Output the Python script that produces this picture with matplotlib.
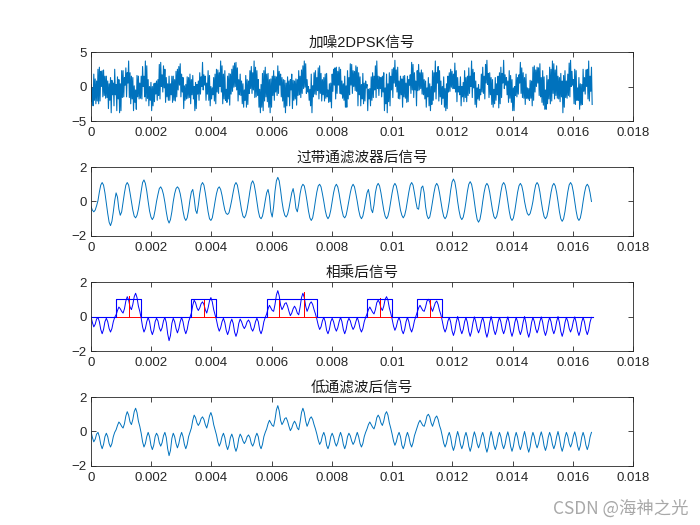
import numpy as np
import matplotlib.pyplot as plt

plt.rcParams['font.family'] = ['Liberation Sans', 'Noto Sans CJK SC', 'DejaVu Sans']

# sample rates (Hz) and bit rate of the 2DPSK signal
fs_noisy = 43200
fs = 21600
bit_rate = 1200

# received signal with noise
noisy = [
    0.3, -2.2, -0.2, -2.8, 1.8, -2.0, 1.1, -2.5, 0.8, -2.1, 2.5, -2.5, 2.8, -2.1, 2.2, 0.0, 2.3, -1.5, 2.4, -1.3, 1.5, -1.7, 1.5, -1.6,
    0.8, -3.2, 0.4, -2.0, 1.3, -3.8, 0.9, -1.2, 0.5, -2.8, 2.5, -1.2, 0.3, -3.5, 1.4, -1.8, 1.0, -3.8, 0.4, -3.5, 2.3, -1.6, 2.3, -1.5,
    1.3, 0.2, 2.7, -1.5, 2.0, 0.5, 3.7, -1.6, 2.0, -2.5, 1.5, -1.8, 1.3, -3.5, 0.1, -2.3, -0.5, -3.3, 1.6, -1.5, 1.5, -1.8, 0.5, -1.7,
    1.5, -1.8, 2.9, 0.0, 1.5, -1.5, 3.7, -2.1, 3.0, -1.7, 1.0, -2.8, 0.0, -2.0, 0.6, -3.5, 0.0, -2.8, 0.4, -2.2, 0.5, -1.1, 0.8, -2.0,
    1.0, -1.3, 3.2, -1.8, 3.5, 0.0, 1.7, -0.8, 3.0, -0.2, 2.5, -2.3, 1.3, -1.5, 0.4, -2.0, 1.5, -2.0, 0.4, -1.2, 1.5, -2.3, 1.5, -2.0,
    1.0, -2.1, 2.2, -1.5, 2.5, -0.5, 2.9, 0.2, 3.3, -1.5, 1.8, -0.8, 1.3, -3.2, 0.1, -2.0, 0.3, -1.8, 1.4, -1.7, 1.3, -1.6, 1.8, -2.5,
    1.0, -1.2, 1.6, -1.8, 0.0, -3.5, 0.6, -3.2, 0.3, -1.1, 0.8, -2.0, 2.0, -1.1, 1.4, 0.0, 3.5, -0.5, 1.7, 0.2, 1.5, -2.0, 0.5, -1.1,
    2.3, -2.0, 1.6, -2.8, 0.0, -1.8, -0.2, -1.2, 1.3, -2.1, 1.8, -2.5, 2.5, -0.8, 2.4, -1.0, 2.0, 0.0, 3.7, -0.8, 3.0, -2.5, 1.8, -1.8,
    2.3, -2.0, -0.4, -2.3, 1.5, -1.8, 1.9, -2.7, 1.8, -1.1, 2.5, -0.7, 3.0, -0.1, 3.4, 0.0, 3.5, -0.5, 2.7, -2.1, 1.0, -1.2, 1.8, -1.3,
    0.8, -2.5, 0.4, -3.0, -0.5, -2.0, 1.6, -3.0, 1.0, -2.6, 0.8, -1.0, 2.3, -0.3, 2.9, -1.0, 2.0, -0.5, 3.7, -1.6, 2.8, -1.5, 2.3, -1.3,
    1.0, -3.0, -0.4, -3.8, 0.3, -3.0, 1.9, -3.5, 2.3, -2.1, 2.8, -1.5, 1.8, -2.2, 1.9, -3.0, 1.0, -3.8, 1.1, -3.0, 1.5, -1.3, 2.3, -2.0,
    1.5, -0.8, 1.4, -1.3, 3.0, -1.0, 2.2, 0.2, 1.8, -1.5, 1.3, -2.1, 1.0, -3.0, 0.9, -3.8, 0.5, -2.8, 1.4, -1.5, 0.8, -2.8, 1.0, -0.5,
    1.8, -3.2, 0.9, -2.0, 0.8, -1.8, 1.1, -2.7, 1.0, -1.3, 2.3, -1.2, 1.5, -1.6, 2.4, -1.0, 3.0, -0.3, 3.7, -0.1, 3.3, -1.0, 1.0, -0.8,
    0.0, -2.0, -0.4, -2.8, 1.8, -3.8, 0.1, -1.5, 2.0, -1.1, 2.3, -1.2, 1.3, -0.6, 2.7, -1.8, 3.0, -1.0, 1.9, -2.1, 1.0, -1.2, 1.3, -2.1,
    1.8, -1.7, 1.9, -1.5, -0.5, -2.3, 0.4, -2.2, 0.5, -3.1, 1.8, -0.7, 2.5, 0.2, 2.7, -1.8, 2.8, -1.0, 2.2, 0.2, 2.8, -1.0, 2.5, -1.1,
    0.8, -1.7, 0.4, -2.0, 1.5, -3.0, 0.1, -3.0, 2.3, -1.8, 1.3, -1.2, 3.3, 0.2, 3.2, -1.0, 2.3, 0.0, 2.2, -0.6, 3.0, -0.7, 2.8, -2.8,
    2.0, -1.2, 1.4, -2.8, 0.3, -1.8, 1.9, -2.5, 0.5, -2.1, 0.8, -0.2, 0.3, -3.5, -0.4, -1.8, -0.3, -2.8, 1.4, -2.0, 2.0, -1.6, 1.5, -0.5,
    3.0, -1.6, 3.7, -0.3, 1.5, -1.3, 1.4, -0.3, 1.3, -1.5, 1.5, -0.8, 2.0, -3.5, -0.2, -2.5, 1.8, -3.8, 0.4, -2.2, 2.0, -2.8, 1.5, -0.5,
    2.5, -1.6, 2.7, 0.5, 3.8, 0.0, 2.4, -0.8, 2.8, -1.7, 0.8, -1.8, 1.5, -1.2, 1.1, -3.0, 1.5, -1.5, 1.6, -1.7, 0.5, -2.3, 1.5, -2.2,
    1.0, 0.2, 1.7, -1.0, 3.5, -0.5, 3.2, -1.6, 2.0, -0.5, 0.8, -2.8, 2.3, -0.6, 3.2, -0.5, 2.0, -0.3, 2.4, -1.1, 2.0, -1.2, 1.0, -1.8,
    0.8, -3.0, -0.2, -1.5, 1.3, -2.8, 0.4, -3.5, 0.0, -2.6, 2.3, -2.0, 2.0, -0.8, 3.7, -1.8, 2.0, 0.5, 2.9, -2.1, 2.3, -1.5, 0.8, -2.6,
    0.0, -1.7, 1.4, -3.0, -0.3, -3.5, 0.4, -3.2, 1.5, -0.8, 2.0, -0.7, 2.5, -0.1, 2.2, -0.3, 1.8, -0.3, 3.4, -0.8, 2.3, -2.2, 1.3, -0.8,
    0.0, -1.2, 1.4, -2.8, 0.0, -1.5, 0.6, -2.2, 2.3, -1.6, 1.3, -2.2, 1.5, -1.3, 2.7, -1.0, 1.5, 0.0, 3.7, -1.6, 2.5, -0.2, 2.0, -2.6,
    0.8, -3.0, -0.2, -1.8, 0.3, -2.0, -0.4, -1.2, 1.8, -0.8, 2.8, -1.0, 1.5, -1.8, 3.2, 0.5, 3.8, 0.3, 1.9, -1.6, 2.0, -1.2, 1.3, -2.6,
    1.0, -3.0, -0.4, -2.5, 1.3, -2.0, 0.4, -1.2, 1.5, -3.1, 2.0, -2.5, 2.8, -1.6, 1.9, 0.5, 3.8, -0.3, 1.7, 0.2, 1.3, -1.2, 0.8, -2.3,
    2.3, -1.7, 1.6, -2.3, 1.0, -3.5, -0.2, -3.5, 0.0, -1.3, 1.8, -1.5, 1.3, -1.1, 1.7, 0.5, 3.5, -1.0, 2.7, -1.6, 2.0, -1.7, 1.3, -2.6,
    1.8, -1.7, -0.2, -1.8, -0.3, -2.0, 0.9, -1.7, 0.8, -2.8, 2.8, -2.0, 3.0, -0.8, 2.4, 0.0, 2.8, 0.5, 2.7, -1.3, 3.3, -1.5, 1.3, -2.3,
    2.3, -2.7, 1.4, -3.3, -0.5, -3.3, 1.6, -2.5, 1.0, -1.8, 2.8, -2.5, 2.5, -2.1, 3.7, -1.0, 3.3, -1.8, 2.4, -1.3, 3.0, -1.7, 1.5, -1.8,
    1.3, -2.2, 1.9, -1.5, 0.8, -3.8, 1.6, -3.0, 2.3, -1.6, 0.8, -1.7, 1.8, -1.3, 3.4, -1.5, 3.8, 0.0, 2.2, 0.2, 1.0, -2.5, 2.5, -2.6,
    2.3, -2.0, -0.2, -2.0, 1.3, -3.3, 0.4, -2.7, 0.3, -2.6, 2.5, -0.7, 1.3, -1.1, 2.4, 0.0, 2.5, -1.8, 3.7, -2.1, 1.5, -0.7, 2.8, -2.6,
]

# after the band-pass filter
bandpass = [
    -0.3, -0.5, -0.6, -0.5, -0.25, 0.05, 0.55, 0.95, 1.1, 0.95, 0.5, -0.1, -0.7, -1.2, -1.4, -1.15, -0.6, 0.05,
    0.5, 0.25, -0.45, -0.8, -0.6, -0.05, 0.5, 0.95, 1.1, 0.95, 0.5, 0.0, -0.5, -0.85, -0.95, -0.8, -0.45, 0.05,
    0.6, 1.1, 1.25, 1.05, 0.6, 0.0, -0.55, -0.9, -1.05, -0.9, -0.5, 0.0, 0.4, 0.75, 0.85, 0.7, 0.4, -0.05,
    -0.6, -1.05, -1.25, -1.05, -0.6, 0.0, 0.45, 0.75, 0.85, 0.75, 0.45, 0.0, -0.55, -0.95, -1.1, -0.95, -0.5, 0.1,
    0.55, 0.7, 0.2, -0.5, -0.7, -0.2, 0.45, 0.95, 1.1, 0.95, 0.5, -0.05, -0.6, -1.0, -1.1, -0.95, -0.5, 0.0,
    0.45, 0.75, 0.85, 0.7, 0.35, -0.1, -0.5, -0.7, -0.75, -0.65, -0.3, 0.1, 0.55, 0.95, 1.1, 0.95, 0.5, 0.0,
    -0.5, -0.85, -0.95, -0.8, -0.45, 0.05, 0.6, 1.05, 1.2, 1.0, 0.55, 0.0, -0.55, -0.9, -1.0, -0.85, -0.45, 0.05,
    0.5, 0.7, 0.3, -0.6, -0.9, -0.3, 0.6, 1.2, 1.4, 1.2, 0.65, 0.0, -0.5, -0.8, -0.9, -0.75, -0.4, 0.05,
    0.5, 0.75, 0.3, -0.4, -0.6, -0.15, 0.45, 0.85, 1.0, 0.9, 0.5, 0.0, -0.55, -0.95, -1.1, -0.95, -0.5, 0.05,
    0.55, 0.9, 1.0, 0.85, 0.45, 0.0, -0.5, -0.85, -1.0, -0.85, -0.5, 0.0, 0.5, 0.85, 1.0, 0.85, 0.45, -0.05,
    -0.5, -0.85, -0.95, -0.8, -0.4, 0.05, 0.5, 0.85, 1.0, 0.85, 0.45, 0.0, -0.5, -0.85, -1.0, -0.85, -0.45, 0.05,
    0.5, 0.7, 0.25, -0.45, -0.65, -0.2, 0.5, 0.9, 1.05, 0.9, 0.5, 0.0, -0.5, -0.85, -1.0, -0.85, -0.5, 0.0,
    0.5, 0.9, 1.05, 0.9, 0.5, 0.0, -0.5, -0.8, -0.95, -0.8, -0.45, 0.05, 0.55, 0.95, 1.1, 0.95, 0.5, 0.0,
    -0.4, -0.45, 0.2, 0.8, 0.9, 0.5, -0.3, -0.8, -1.0, -0.9, -0.5, 0.0, 0.5, 0.9, 1.05, 0.9, 0.5, 0.0,
    -0.5, -0.87, -1.0, -0.87, -0.5, 0.0, 0.65, 1.13, 1.3, 1.13, 0.65, 0.0,
    -0.53, -0.91, -1.05, -0.91, -0.53, 0.0, 0.58, 1.0, 1.15, 1.0, 0.58, 0.0,
    -0.6, -1.04, -1.2, -1.04, -0.6, 0.0, 0.53, 0.91, 1.05, 0.91, 0.53, 0.0,
    -0.5, -0.87, -1.0, -0.87, -0.5, 0.0, 0.55, 0.96, 1.1, 0.96, 0.55, 0.0,
    -0.55, -0.96, -1.1, -0.96, -0.55, 0.0, 0.53, 0.91, 1.05, 0.91, 0.53, 0.0,
    -0.4, -0.7, -0.8, -0.7, -0.4, 0.0, 0.55, 0.96, 1.1, 0.96, 0.55, 0.0,
    -0.5, -0.87, -1.0, -0.87, -0.5, 0.0, 0.53, 0.91, 1.05, 0.91, 0.53, 0.0,
    -0.58, -1.0, -1.15, -1.0, -0.58, 0.0, 0.55, 0.96, 1.1, 0.96, 0.55, 0.0,
    -0.55, -0.96, -1.1, -0.96, -0.55, 0.0, 0.5, 0.87, 1.0, 0.87, 0.5, 0.0,
]

# after multiplying and low-pass filtering
lowpass = [
    0.0, -0.35, -0.6, -0.45, -0.15, -0.05, -0.3, -0.75, -1.0, -0.75, -0.3, -0.1, -0.3, -0.7, -0.9, -0.7, -0.3, -0.05,
    0.1, 0.35, 0.55, 0.45, 0.3, 0.2, 0.45, 0.9, 1.15, 0.95, 0.55, 0.4, 0.7, 1.15, 1.35, 1.1, 0.6, 0.3,
    -0.1, -0.6, -0.9, -0.7, -0.3, -0.05, -0.3, -0.8, -1.05, -0.8, -0.3, -0.1, -0.25, -0.65, -0.85, -0.65, -0.25, -0.05,
    -0.35, -1.0, -1.4, -1.1, -0.4, -0.1, -0.3, -0.7, -0.95, -0.7, -0.3, -0.05, -0.3, -0.75, -1.0, -0.75, -0.3, -0.05,
    0.2, 0.65, 0.95, 0.8, 0.5, 0.35, 0.5, 0.75, 0.85, 0.7, 0.4, 0.2, 0.5, 0.9, 1.1, 0.85, 0.4, 0.1,
    -0.2, -0.6, -0.85, -0.65, -0.3, -0.1, -0.35, -0.8, -1.05, -0.8, -0.35, -0.15, -0.4, -0.9, -1.15, -0.9, -0.4, -0.15,
    -0.3, -0.55, -0.7, -0.55, -0.3, -0.2, -0.35, -0.7, -0.85, -0.65, -0.3, -0.1, -0.3, -0.8, -1.0, -0.75, -0.3, -0.05,
    0.15, 0.45, 0.65, 0.5, 0.35, 0.3, 0.7, 1.25, 1.5, 1.2, 0.65, 0.4, 0.55, 0.75, 0.8, 0.6, 0.3, 0.05,
    0.2, 0.45, 0.6, 0.45, 0.2, 0.1, 0.55, 1.1, 1.35, 1.1, 0.6, 0.3, 0.5, 0.75, 0.85, 0.7, 0.4, 0.15,
    -0.15, -0.5, -0.75, -0.6, -0.25, -0.05, -0.3, -0.8, -1.0, -0.75, -0.3, -0.1, -0.3, -0.65, -0.85, -0.65, -0.3, -0.05,
    -0.3, -0.75, -1.0, -0.75, -0.3, -0.1, -0.25, -0.55, -0.75, -0.6, -0.3, -0.05, -0.3, -0.7, -0.9, -0.7, -0.3, -0.05,
    0.15, 0.4, 0.55, 0.4, 0.25, 0.15, 0.4, 0.8, 0.95, 0.8, 0.5, 0.35, 0.6, 1.0, 1.15, 0.95, 0.5, 0.2,
    -0.15, -0.55, -0.8, -0.6, -0.25, -0.05, -0.3, -0.8, -1.0, -0.75, -0.3, -0.05, -0.3, -0.7, -0.9, -0.65, -0.25, 0.0,
    0.25, 0.5, 0.65, 0.5, 0.35, 0.3, 0.55, 0.9, 1.0, 0.85, 0.5, 0.3, 0.55, 0.8, 0.9, 0.7, 0.35, 0.1,
    -0.27, -0.68, -0.9, -0.68, -0.27, -0.05, -0.33, -0.83, -1.1, -0.83, -0.33, 0.0,
    -0.3, -0.75, -1.0, -0.75, -0.3, -0.05, -0.35, -0.86, -1.15, -0.86, -0.35, -0.02,
    -0.29, -0.71, -0.95, -0.71, -0.29, -0.05, -0.36, -0.9, -1.2, -0.9, -0.36, 0.0,
    -0.32, -0.79, -1.05, -0.79, -0.32, -0.05, -0.3, -0.75, -1.0, -0.75, -0.3, -0.02,
    -0.35, -0.86, -1.15, -0.86, -0.35, -0.05, -0.32, -0.79, -1.05, -0.79, -0.32, 0.0,
    -0.36, -0.9, -1.2, -0.9, -0.36, -0.05, -0.29, -0.71, -0.95, -0.71, -0.29, -0.02,
    -0.33, -0.83, -1.1, -0.83, -0.33, -0.05, -0.3, -0.75, -1.0, -0.75, -0.3, 0.0,
    -0.35, -0.86, -1.15, -0.86, -0.35, -0.05, -0.27, -0.68, -0.9, -0.68, -0.27, -0.02,
    -0.33, -0.83, -1.1, -0.83, -0.33, -0.05, -0.32, -0.79, -1.05, -0.79, -0.32, -0.05,
]

# decided bits and the sampled values at the middle of each '1' bit
bits = [0, 1, 0, 0, 1, 0, 0, 1, 1, 0, 0, 1, 0, 1, 0, 0, 0, 0, 0, 0]
sample_peaks = [1.2, 1.0, 1.0, 1.4, 1.1, 1.0]

titles = ['加噪2DPSK信号', '过带通滤波器后信号', '相乘后信号', '低通滤波后信号']
xtick_vals = [0, 0.002, 0.004, 0.006, 0.008, 0.01, 0.012, 0.014, 0.016, 0.018]
xtick_labels = ['0', '0.002', '0.004', '0.006', '0.008', '0.01', '0.012', '0.014', '0.016', '0.018']

t_noisy = np.arange(len(noisy)) / fs_noisy
t = np.arange(len(bandpass)) / fs
Tb = 1 / bit_rate

# red impulse line: zero, with a spike at the centre of each '1' bit
red_t = [0.0]
red_v = [0.0]
j = 0
for k, b in enumerate(bits):
    if b:
        c = (k + 0.5) * Tb
        red_t += [c, c, c]
        red_v += [0.0, sample_peaks[j], 0.0]
        j += 1
red_t.append(len(bits) * Tb)
red_v.append(0.0)

edges = np.arange(len(bits) + 1) * Tb
steps = bits + [bits[-1]]

fig = plt.figure(figsize=(7, 5.25), dpi=100)
bottoms = [0.7695, 0.5505, 0.3314, 0.1124]
axes = [fig.add_axes([0.13, b, 0.7743, 0.1314]) for b in bottoms]

mblue = '#0072BD'
axes[0].plot(t_noisy, noisy, color=mblue, lw=0.8)
axes[1].plot(t, bandpass, color=mblue, lw=0.7)
axes[2].plot(t, lowpass, color='#0000FF', lw=0.7)
axes[2].plot(red_t, red_v, color='#FF0000', lw=0.7)
axes[2].step(edges, steps, where='post', color='#0000FF', lw=0.8)
axes[3].plot(t, lowpass, color=mblue, lw=0.7)

for i, ax in enumerate(axes):
    ax.set_xlim(0, 0.018)
    ax.set_xticks(xtick_vals)
    ax.set_xticklabels(xtick_labels)
    if i == 0:
        ax.set_ylim(-5, 5)
        ax.set_yticks([-5, 0, 5])
    else:
        ax.set_ylim(-2, 2)
        ax.set_yticks([-2, 0, 2])
    ax.tick_params(direction='in', top=True, right=True, length=3.5, width=0.6,
                   labelsize=9.5, color='#262626', labelcolor='#262626')
    ax.tick_params(axis='x', pad=4)
    ax.tick_params(axis='y', pad=3)
    for s in ax.spines.values():
        s.set_linewidth(0.6)
        s.set_color('#262626')
    ax.set_title(titles[i], fontsize=10.5, color='#1a1a1a', pad=4)

fig.text(0.983, 0.032, 'CSDN @海神之光', ha='right', va='center', fontsize=12.5,
         color='#a8a8a8', family=['Noto Sans CJK SC', 'DejaVu Sans'])

fig.savefig('out.png', dpi=100, facecolor='white')
